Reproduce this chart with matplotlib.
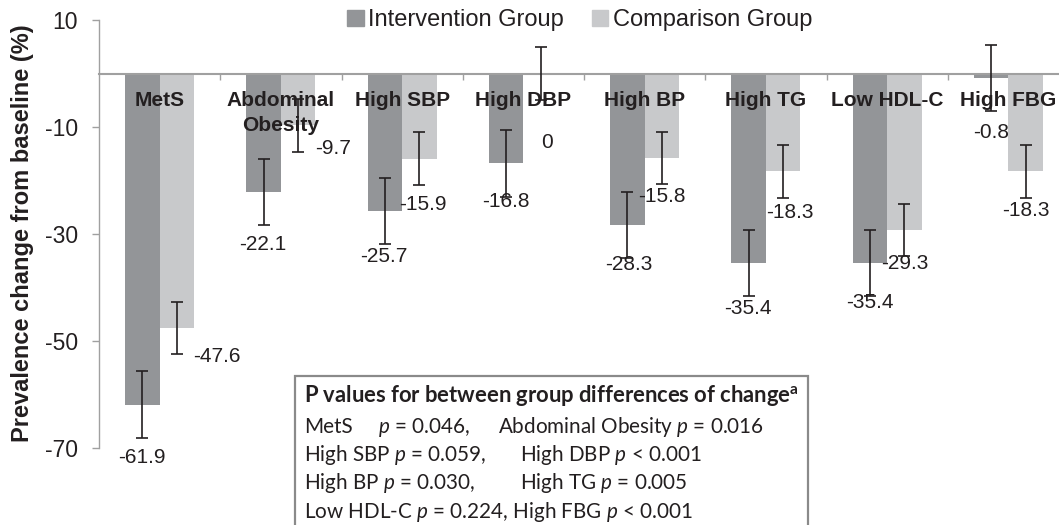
import numpy as np
import matplotlib
matplotlib.use("Agg")
import matplotlib.pyplot as plt
from matplotlib.patches import Rectangle, Patch

# data
categories = ["MetS", "Abdominal\nObesity", "High SBP", "High DBP",
              "High BP", "High TG", "Low HDL-C", "High FBG"]
intervention = [-61.9, -22.1, -25.7, -16.8, -28.3, -35.4, -35.4, -0.8]
comparison = [-47.6, -9.7, -15.9, 0.0, -15.8, -18.3, -29.3, -18.3]
intervention_err = [6.2, 6.2, 6.2, 6.2, 6.2, 6.2, 6.2, 6.2]
comparison_err = [4.9, 4.9, 4.9, 4.9, 4.9, 4.9, 4.9, 4.9]
yticks = [10, -10, -30, -50, -70]

pvalue_title = r"P values for between group differences of change$^{\mathbf{a}}$"
# each line split into pieces, with the x pixel where each piece starts
pvalue_lines = [
    [("MetS", 304), (r"$p$ = 0.046,", 378), (r"Abdominal Obesity $p$ = 0.016", 498)],
    [(r"High SBP $p$ = 0.059,", 304), (r"High DBP $p$ < 0.001", 520)],
    [(r"High BP $p$ = 0.030,", 304), (r"High TG $p$ = 0.005", 520)],
    [(r"Low HDL-C $p$ = 0.224, High FBG $p$ < 0.001", 304)],
]

# label nudges (pixels, from bottom of error bar), as placed in the original
interv_nudge = [(0, 20), (-1, 20), (-1, 12), (0, 5), (1, 6), (-1, 12), (0, 6), (0, 22)]
comp_nudge = [(40, 2), (35, -3), (3, 20), (6, 43), (0, 12), (7, 15), (0, 7), (0, 13)]

DARK = "#939598"
LIGHT = "#c8c9cb"
INK = "#231f20"
AXIS = "#a0a0a0"

plt.rcParams["font.family"] = ["Liberation Sans", "DejaVu Sans"]
plt.rcParams["mathtext.fontset"] = "custom"
plt.rcParams["mathtext.rm"] = "Lato"
plt.rcParams["mathtext.it"] = "Lato:italic"
plt.rcParams["mathtext.bf"] = "Lato:bold"

fig = plt.figure(figsize=(10.59, 5.25), dpi=100)
ax = fig.add_axes([99 / 1059, 1 - 448 / 525, 970 / 1059, 428 / 525])

x = np.arange(len(categories))
w = 0.285
ax.bar(x - w / 2, intervention, w, color=DARK, zorder=2)
ax.bar(x + w / 2, comparison, w, color=LIGHT, zorder=2)
ax.errorbar(x - w / 2, intervention, yerr=intervention_err, fmt="none",
            ecolor=INK, elinewidth=1.2, capsize=4, capthick=1.2, zorder=5)
ax.errorbar(x + w / 2, comparison, yerr=comparison_err, fmt="none",
            ecolor=INK, elinewidth=1.2, capsize=4, capthick=1.2, zorder=5)

for i in range(len(categories)):
    ax.text(x[i], -3.25, categories[i], ha="center", va="top", fontsize=15,
            fontweight="bold", color=INK, zorder=4, linespacing=1.38)
    for val, err, nudge, xc in [
        (intervention[i], intervention_err[i], interv_nudge[i], x[i] - w / 2),
        (comparison[i], comparison_err[i], comp_nudge[i], x[i] + w / 2),
    ]:
        label = "0" if val == 0 else f"{val:.1f}"
        ax.annotate(label, xy=(xc, val - err), xytext=(nudge[0], -nudge[1]),
                    textcoords="offset pixels", ha="center", va="center",
                    fontsize=15, color=INK, annotation_clip=False, zorder=4)

ax.set_xlim(-0.5, 7.5)
ax.set_ylim(-70, 10)
ax.set_yticks(yticks)
ax.set_yticklabels([str(t) for t in yticks], fontsize=16.5, color=INK)
ax.set_xticks(np.arange(0.5, 7.5, 1))
ax.set_xticklabels([])
ax.tick_params(axis="y", length=5, width=1, color=AXIS, pad=10)
ax.tick_params(axis="x", length=4, width=1, color=AXIS, direction="out")
for side in ["top", "right"]:
    ax.spines[side].set_visible(False)
ax.spines["bottom"].set_position(("data", 0))
ax.spines["bottom"].set_color(AXIS)
ax.spines["bottom"].set_linewidth(1.5)
ax.spines["left"].set_color(AXIS)
ax.spines["left"].set_linewidth(1)

fig.text(23 / 1059, 1 - 233 / 525, "Prevalence change from baseline (%)",
         rotation=90, ha="center", va="center", fontsize=17, fontweight="bold",
         color=INK)

handles = [Patch(color=DARK, label="Intervention Group"),
           Patch(color=LIGHT, label="Comparison Group")]
fig.legend(handles=handles, loc="center", bbox_to_anchor=(580 / 1059, 1 - 20 / 525),
           ncol=2, frameon=False, fontsize=17, handlelength=0.68, handleheight=0.68,
           handletextpad=0.2, columnspacing=1.2, labelcolor=INK)

# p-value box
box = Rectangle((295 / 1059, -0.05), 513 / 1059, 0.05 + 1 - 375.5 / 525,
                transform=fig.transFigure, fill=False, edgecolor="#8a8a8a",
                linewidth=1.6, clip_on=False)
fig.patches.append(box)
fig.text(304 / 1059, 1 - 402.5 / 525, pvalue_title, ha="left", va="baseline",
         fontsize=15.8, family="Lato", fontweight="bold", color=INK)
for k, pieces in enumerate(pvalue_lines):
    ypix = 433 + 28.2 * k
    for txt, xpix in pieces:
        fig.text(xpix / 1059, 1 - ypix / 525, txt, ha="left", va="baseline",
                 fontsize=14.9, family="Lato", color=INK)

fig.savefig("out.png", dpi=100)
